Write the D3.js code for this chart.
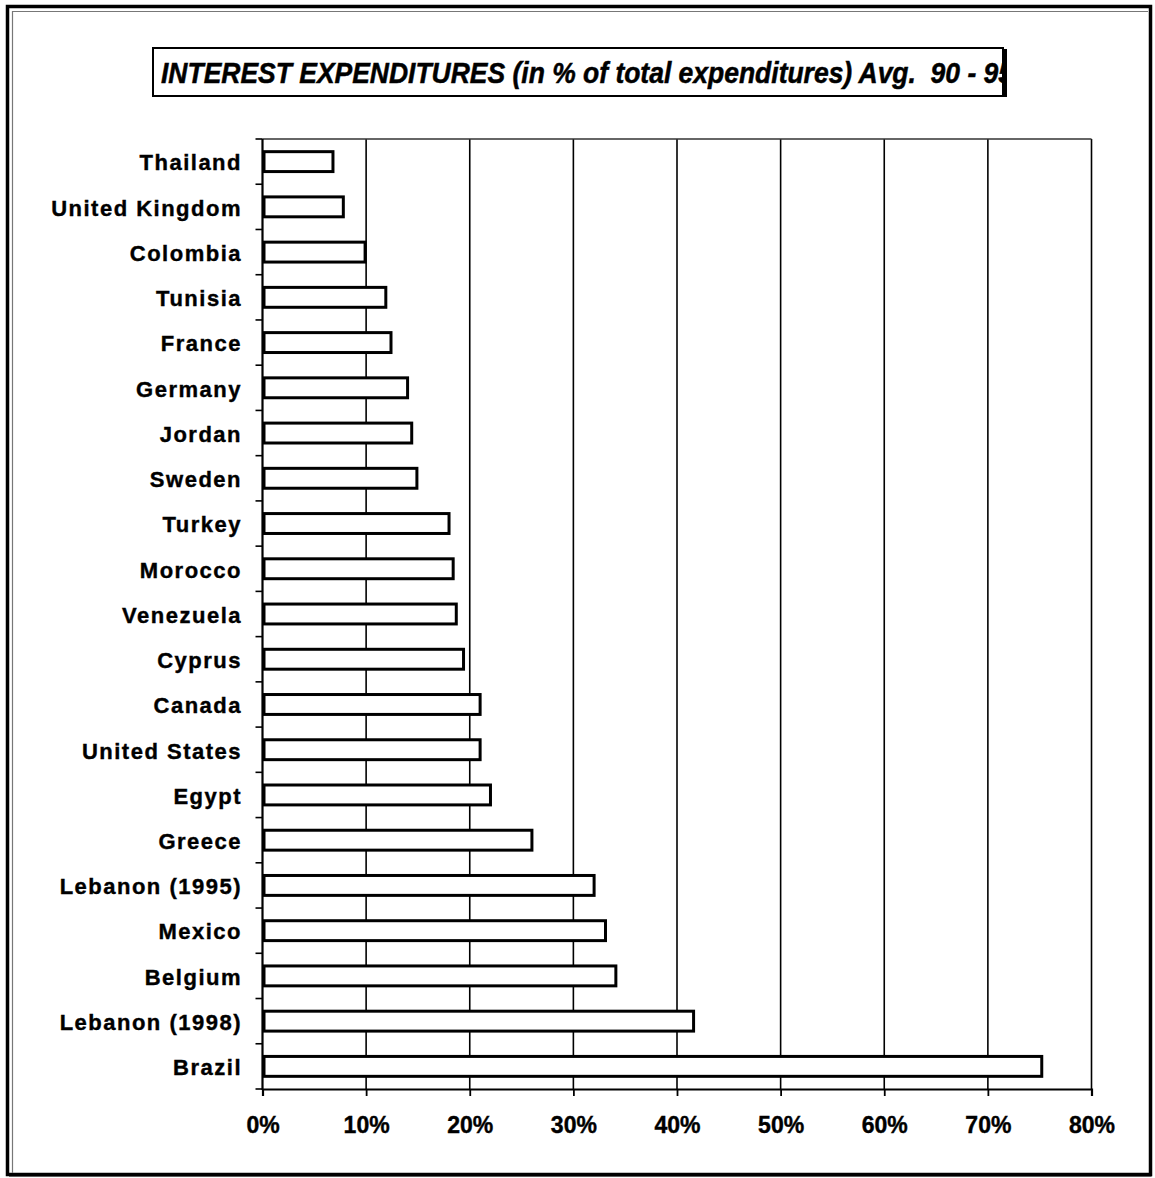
<!DOCTYPE html>
<html>
<head>
<meta charset="utf-8">
<script src="https://cdn.jsdelivr.net/npm/d3@7"></script>
<style>
  html, body { margin: 0; padding: 0; background: #fff; }
  svg { display: block; }
</style>
</head>
<body>
<svg id="chart" width="1155" height="1178"></svg>
<script>
// Interest expenditures as % of total expenditures, average 1990-95
const countries = [
  "Thailand", "United Kingdom", "Colombia", "Tunisia", "France", "Germany",
  "Jordan", "Sweden", "Turkey", "Morocco", "Venezuela", "Cyprus", "Canada",
  "United States", "Egypt", "Greece", "Lebanon (1995)", "Mexico", "Belgium",
  "Lebanon (1998)", "Brazil"
];
const shares = [
  6.8, 7.8, 9.9, 11.9, 12.4, 14.0,
  14.4, 14.9, 18.0, 18.4, 18.7, 19.4, 21.0,
  21.0, 22.0, 26.0, 32.0, 33.1, 34.1,
  41.6, 75.2
];
const xTicks = [0, 10, 20, 30, 40, 50, 60, 70, 80];
const titleText = "INTEREST EXPENDITURES (in % of total expenditures) Avg.\u00a0\u00a090 - 95";

const svg = d3.select("#chart");

// Outer page frame: heavy outer line with a thin inner rule
svg.append("rect")
  .attr("x", 7.5).attr("y", 6.5).attr("width", 1143).attr("height", 1168)
  .attr("fill", "none").attr("stroke", "#000").attr("stroke-width", 3.5);
svg.append("path")
  .attr("d", "M1150.5,8 V1175.5 H9")
  .attr("fill", "none").attr("stroke", "#000").attr("stroke-width", 2);
svg.append("path")
  .attr("d", "M12.5,1173 V11.5 H1148")
  .attr("fill", "none").attr("stroke", "#777").attr("stroke-width", 1.2);

// Title box with a drop shadow on the right
const tb = { x: 153, y: 48, w: 850, h: 48 };
svg.append("rect")
  .attr("x", tb.x + tb.w).attr("y", tb.y + 1).attr("width", 4).attr("height", tb.h)
  .attr("fill", "#000");
svg.append("rect")
  .attr("x", tb.x).attr("y", tb.y).attr("width", tb.w).attr("height", tb.h)
  .attr("fill", "#fff").attr("stroke", "#000").attr("stroke-width", 2);
svg.append("clipPath").attr("id", "titleClip")
  .append("rect").attr("x", tb.x).attr("y", tb.y).attr("width", tb.w - 1).attr("height", tb.h);
svg.append("text")
  .attr("clip-path", "url(#titleClip)")
  .attr("x", 161).attr("y", 82.5)
  .attr("textLength", 852).attr("lengthAdjust", "spacingAndGlyphs")
  .attr("font-family", "Liberation Sans, Arial, sans-serif")
  .attr("font-size", 29).attr("font-weight", "bold").attr("font-style", "italic")
  .attr("stroke", "#000").attr("stroke-width", 0.5)
  .attr("fill", "#000")
  .text(titleText);

// Plot area
const m = { left: 262.5, right: 1091.5, top: 139, bottom: 1089 };

const x = d3.scaleLinear().domain([0, 80]).range([m.left, m.right]);
const y = d3.scaleBand().domain(countries).range([m.top, m.bottom])
  .paddingInner(0.56).paddingOuter(0.28);
const yEdge = d3.scaleLinear().domain([0, countries.length]).range([m.top, m.bottom]);

// Vertical gridlines
svg.append("g").selectAll("line")
  .data(xTicks.filter(d => d > 0))
  .join("line")
  .attr("x1", d => x(d)).attr("x2", d => x(d))
  .attr("y1", m.top).attr("y2", m.bottom)
  .attr("stroke", "#000").attr("stroke-width", 1.6);

// Top border of the plot area
svg.append("line")
  .attr("x1", m.left).attr("x2", m.right).attr("y1", m.top).attr("y2", m.top)
  .attr("stroke", "#333").attr("stroke-width", 1.5);

// Bars
svg.append("g").selectAll("rect")
  .data(countries)
  .join("rect")
  .attr("x", x(0) + 1.5)
  .attr("y", d => y(d))
  .attr("width", (d, i) => x(shares[i]) - x(0) - 1.5)
  .attr("height", y.bandwidth())
  .attr("fill", "#fff")
  .attr("stroke", "#000")
  .attr("stroke-width", 3);

// Bottom axis
const xAxis = d3.axisBottom(x).tickValues(xTicks).tickFormat(d => d + "%")
  .tickSize(7).tickPadding(21);
const gx = svg.append("g").attr("transform", `translate(0,${m.bottom})`).call(xAxis);
gx.select(".domain").attr("stroke", "#000").attr("stroke-width", 2.2);
gx.selectAll(".tick line").attr("stroke", "#000").attr("stroke-width", 1.8);
gx.selectAll(".tick text")
  .attr("font-family", "Liberation Sans, Arial, sans-serif")
  .attr("font-size", 23).attr("font-weight", "bold").attr("fill", "#000")
  .attr("stroke", "#000").attr("stroke-width", 0.4);

// Left axis: ticks at category boundaries
const gy = svg.append("g").attr("transform", `translate(${m.left},0)`);
gy.append("line")
  .attr("x1", 0).attr("x2", 0).attr("y1", m.top).attr("y2", m.bottom + 1)
  .attr("stroke", "#000").attr("stroke-width", 2.2);
gy.selectAll("line.tk")
  .data(d3.range(countries.length + 1))
  .join("line").attr("class", "tk")
  .attr("x1", -7).attr("x2", 0)
  .attr("y1", d => yEdge(d)).attr("y2", d => yEdge(d))
  .attr("stroke", "#000").attr("stroke-width", 1.6);

// Category labels
svg.append("g").selectAll("text")
  .data(countries)
  .join("text")
  .attr("x", 242)
  .attr("y", d => y(d) + y.bandwidth() / 2)
  .attr("dy", "0.4em")
  .attr("text-anchor", "end")
  .attr("font-family", "Liberation Sans, Arial, sans-serif")
  .attr("font-size", 22).attr("font-weight", "bold")
  .attr("letter-spacing", "1.5px")
  .attr("stroke", "#000").attr("stroke-width", 0.4)
  .attr("fill", "#000")
  .text(d => d);
</script>
</body>
</html>
